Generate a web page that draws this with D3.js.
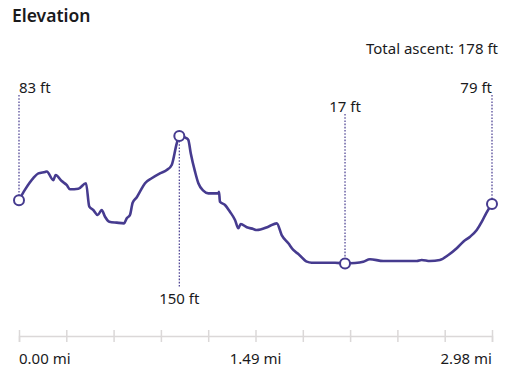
<!DOCTYPE html>
<html>
<head>
<meta charset="utf-8">
<script src="https://cdn.jsdelivr.net/npm/d3@7"></script>
<style>
  html, body { margin: 0; padding: 0; background: #fff; }
  svg { display: block; }
  text { font-family: "Noto Sans", sans-serif; fill: #1a1a1c; }
</style>
</head>
<body>
<svg id="chart" width="515" height="381"></svg>
<script>
// ---- data ----
const distanceMi = [0.000, 0.038, 0.090, 0.122, 0.164, 0.175, 0.216, 0.231, 0.269, 0.300,
  0.321, 0.374, 0.422, 0.443, 0.468, 0.496, 0.521, 0.542, 0.569, 0.616,
  0.662, 0.679, 0.699, 0.716, 0.742, 0.762, 0.794, 0.836, 0.888, 0.931,
  0.962, 0.994, 1.010, 1.057, 1.067, 1.082, 1.109, 1.130, 1.161, 1.193,
  1.256, 1.260, 1.266, 1.298, 1.329, 1.361, 1.382, 1.397, 1.435, 1.476,
  1.498, 1.571, 1.624, 1.655, 1.697, 1.728, 1.760, 1.813, 1.844, 1.991,
  2.054, 2.117, 2.169, 2.211, 2.295, 2.400, 2.506, 2.537, 2.589, 2.652,
  2.705, 2.758, 2.799, 2.842, 2.884, 2.916, 2.943, 2.980];
const elevationFt = [83, 94, 106, 111, 112.5, 113, 104, 109.3, 103, 99,
  94.4, 95, 100.7, 76.3, 72.8, 67.6, 72.8, 65.8, 60.6, 59.6,
  58.9, 64.2, 67.6, 80.4, 86.1, 91.9, 100.7, 105.9, 111.1, 114.5,
  119.8, 142.4, 150, 147.6, 145.8, 132, 112.8, 100.7, 93, 90.2,
  90.2, 91.9, 81.5, 78, 71, 62.4, 53.7, 58.2, 54.8, 53,
  51.9, 55.4, 58.9, 46.7, 38.1, 31.1, 26.9, 18.9, 17.8, 17.8,
  17, 17.5, 18.9, 21.4, 19.6, 19.6, 19.6, 20.7, 19.6, 20.7,
  25.9, 32.9, 39.7, 45, 52, 60.6, 69.4, 79];

// highlighted points: start, high, low, end
const markerMi = [0.000, 1.010, 2.054, 2.980];
const markerFt = [83, 150, 17, 79];
const markerLabels = ["83 ft", "150 ft", "17 ft", "79 ft"];
const markerPlacement = ["top-start", "bottom", "top-mid", "top-end"];

const axisTickValues = [0, 0.298, 0.596, 0.894, 1.192, 1.49, 1.788, 2.086, 2.384, 2.682, 2.98];
const axisLabelValues = [0, 1.49, 2.98];
const axisLabels = ["0.00 mi", "1.49 mi", "2.98 mi"];

const titleText = "Elevation";
const ascentText = "Total ascent: 178 ft";

// ---- drawing ----
const svg = d3.select("#chart");
const lineColor = "#463b8f";

const x = d3.scaleLinear().domain([0, 2.98]).range([19, 492]);
const y = d3.scaleLinear().domain([17, 150]).range([263.5, 136]);

svg.append("text").attr("x", 12).attr("y", 22)
  .style("font-size", "17.5px").style("font-weight", 600)
  .text(titleText);

svg.append("text").attr("x", 498).attr("y", 54)
  .attr("text-anchor", "end").style("font-size", "15px")
  .text(ascentText);

// axis
const axisY = 336;
const axis = d3.axisBottom(x).tickValues(axisTickValues).tickFormat("").tickSizeOuter(0).tickSize(6);
const gAxis = svg.append("g").attr("transform", `translate(0,${axisY})`).call(axis);
gAxis.select(".domain").attr("stroke", "#dbd8d8").attr("stroke-width", 1.5);
gAxis.selectAll(".tick line").attr("stroke", "#dbd8d8").attr("stroke-width", 1.5)
  .attr("y1", -6).attr("y2", 6);

const anchors = ["start", "middle", "end"];
svg.append("g").selectAll("text").data(axisLabelValues).join("text")
  .attr("x", d => x(d)).attr("y", 364)
  .attr("text-anchor", (d, i) => anchors[i])
  .style("font-size", "15px")
  .text((d, i) => axisLabels[i]);

// elevation line
const pts = distanceMi.map((d, i) => [d, elevationFt[i]]);
const line = d3.line().x(d => x(d[0])).y(d => y(d[1])).curve(d3.curveMonotoneX);
svg.append("path").datum(pts)
  .attr("d", line)
  .attr("fill", "none")
  .attr("stroke", lineColor)
  .attr("stroke-width", 2.6)
  .attr("stroke-linejoin", "round")
  .attr("stroke-linecap", "round");

// markers, leader lines, labels
const markers = markerMi.map((d, i) => ({mi: d, ft: markerFt[i], label: markerLabels[i], place: markerPlacement[i]}));
const labelBaseline = {"top-start": 93, "top-end": 93, "top-mid": 112, "bottom": 304};
const gM = svg.append("g");
markers.forEach(m => {
  const px = x(m.mi), py = y(m.ft);
  const lb = labelBaseline[m.place];
  let y1, y2;
  if (m.place === "bottom") { y1 = py + 5; y2 = lb - 16; }
  else { y1 = lb + 2; y2 = py - 5; }
  gM.append("line")
    .attr("x1", px).attr("x2", px).attr("y1", y1).attr("y2", y2)
    .attr("stroke", lineColor).attr("stroke-width", 1.2)
    .attr("stroke-dasharray", "1.6,1.6");
  const anchor = m.place === "top-start" ? "start" : m.place === "top-end" ? "end" : "middle";
  gM.append("text").attr("x", px).attr("y", lb)
    .attr("text-anchor", anchor).style("font-size", "15px")
    .text(m.label);
});
gM.selectAll("circle").data(markers).join("circle")
  .attr("cx", d => x(d.mi)).attr("cy", d => y(d.ft)).attr("r", 5)
  .attr("fill", "#fff").attr("stroke", lineColor).attr("stroke-width", 2);
</script>
</body>
</html>
